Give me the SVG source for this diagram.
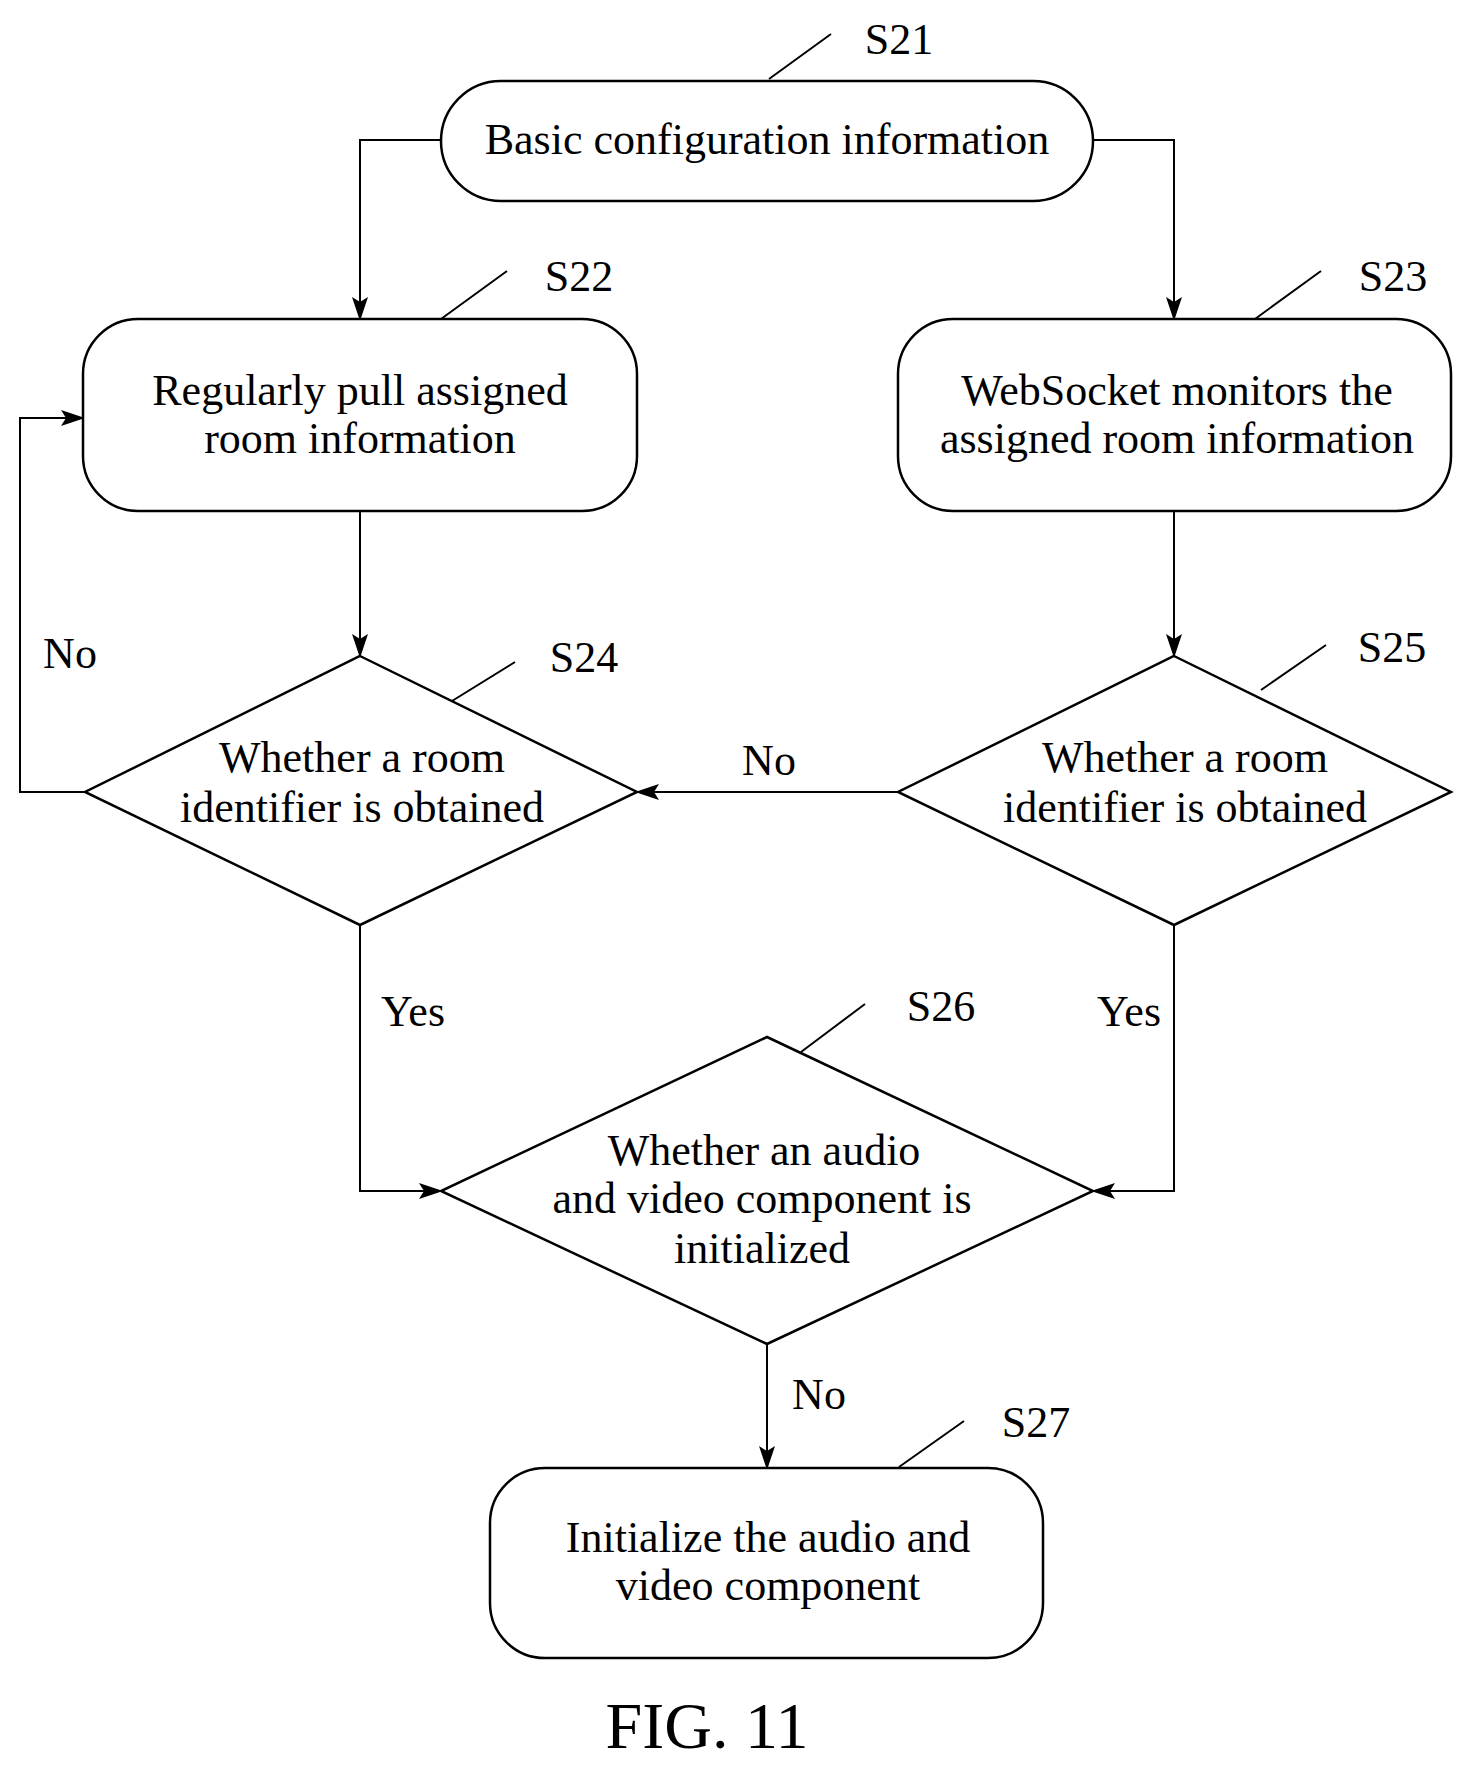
<svg xmlns="http://www.w3.org/2000/svg" width="1470" height="1769" viewBox="0 0 1470 1769">
<style>
.s{fill:#fff;stroke:#000;stroke-width:2.5}
.c{fill:none;stroke:#000;stroke-width:2}
text{font-family:"Liberation Serif","Times New Roman",serif;font-size:44px;fill:#000}
.m{text-anchor:middle}
</style>
<defs><marker id="a" markerWidth="24" markerHeight="16" refX="22" refY="8" orient="auto" markerUnits="userSpaceOnUse"><path d="M0,0 L24,8 L0,16 L5,8 Z"/></marker></defs>
<rect width="1470" height="1769" fill="#fff"/>
<g id="connectors">
<path class="c" d="M441,140 H360 V319" marker-end="url(#a)"/>
<path class="c" d="M1093,140 H1174 V319" marker-end="url(#a)"/>
<path class="c" d="M360,511 V656" marker-end="url(#a)"/>
<path class="c" d="M1174,511 V656" marker-end="url(#a)"/>
<path class="c" d="M898,792 H637" marker-end="url(#a)"/>
<path class="c" d="M85,792 H20 V418 H83" marker-end="url(#a)"/>
<path class="c" d="M360,925 V1191 H441" marker-end="url(#a)"/>
<path class="c" d="M1174,925 V1191 H1093" marker-end="url(#a)"/>
<path class="c" d="M767,1344 V1468" marker-end="url(#a)"/>
<path class="c" d="M769,79 L831,34 M441,319 L507,271 M1255,319 L1321,271 M452,701 L515,662 M1261,690 L1326,645 M801,1052 L865,1004 M899,1467 L964,1421"/>
<text x="769" y="775" class="m">No</text>
<text x="70" y="668" class="m">No</text>
<text x="413" y="1026" class="m">Yes</text>
<text x="1129" y="1026" class="m">Yes</text>
<text x="819" y="1409" class="m">No</text>
</g>
<g id="S21"><rect class="s" x="441" y="81" width="652" height="120" rx="60"/>
<text x="767" y="154" class="m">Basic configuration information</text><text x="899" y="54" class="m">S21</text></g>
<g id="S22"><rect class="s" x="83" y="319" width="554" height="192" rx="55"/>
<text x="360" y="405" class="m">Regularly pull assigned</text><text x="360" y="453" class="m">room information</text><text x="579" y="291" class="m">S22</text></g>
<g id="S23"><rect class="s" x="898" y="319" width="553" height="192" rx="55"/>
<text x="1177" y="405" class="m">WebSocket monitors the</text><text x="1177" y="453" class="m">assigned room information</text><text x="1393" y="291" class="m">S23</text></g>
<g id="S24"><polygon class="s" points="360,656 637,792 360,925 85,792"/>
<text x="362" y="772" class="m">Whether a room</text><text x="362" y="822" class="m">identifier is obtained</text><text x="584" y="672" class="m">S24</text></g>
<g id="S25"><polygon class="s" points="1174,656 1451,792 1174,925 898,792"/>
<text x="1185" y="772" class="m">Whether a room</text><text x="1185" y="822" class="m">identifier is obtained</text><text x="1392" y="662" class="m">S25</text></g>
<g id="S26"><polygon class="s" points="767,1037 1093,1191 767,1344 441,1191"/>
<text x="764" y="1165" class="m">Whether an audio</text><text x="762" y="1213" class="m">and video component is</text><text x="762" y="1263" class="m">initialized</text><text x="941" y="1021" class="m">S26</text></g>
<g id="S27"><rect class="s" x="490" y="1468" width="553" height="190" rx="55"/>
<text x="768" y="1552" class="m">Initialize the audio and</text><text x="768" y="1600" class="m">video component</text><text x="1036" y="1437" class="m">S27</text></g>
<text x="707" y="1748" class="m" style="font-size:66px">FIG. 11</text>
</svg>
